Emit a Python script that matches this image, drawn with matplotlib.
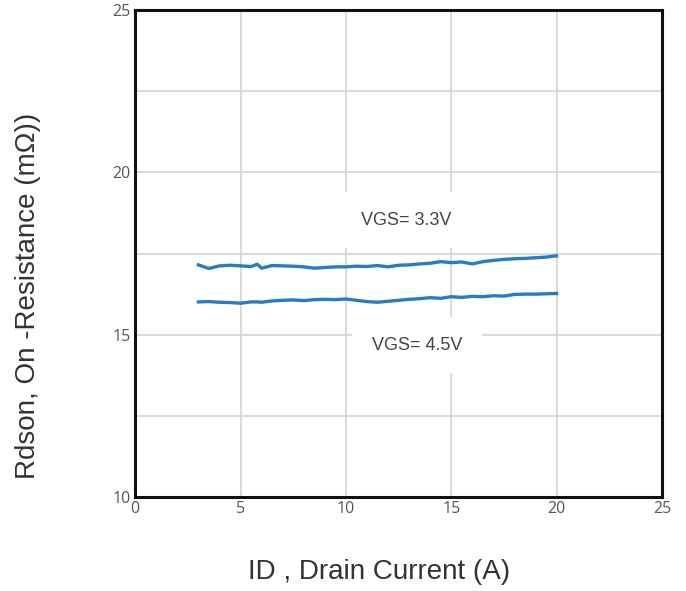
import numpy as np
from matplotlib import pyplot as plt

# drain current (A) sample points
id_a = [3.0, 3.5, 4.0, 4.5, 5.0, 5.5, 5.8, 6.0, 6.5, 7.0, 7.5, 8.0, 8.5, 9.0,
        9.5, 10.0, 10.5, 11.0, 11.5, 12.0, 12.5, 13.0, 13.5, 14.0, 14.5, 15.0,
        15.5, 16.0, 16.5, 17.0, 17.5, 18.0, 18.5, 19.0, 19.5, 20.0]

# Rdson (mOhm)
rds_33 = [17.15, 17.04, 17.12, 17.14, 17.12, 17.10, 17.17, 17.05, 17.13, 17.12,
          17.11, 17.09, 17.05, 17.07, 17.09, 17.09, 17.11, 17.10, 17.13, 17.09,
          17.14, 17.15, 17.18, 17.20, 17.25, 17.22, 17.24, 17.18, 17.25, 17.29,
          17.32, 17.34, 17.35, 17.37, 17.39, 17.43]
rds_45 = [16.01, 16.02, 16.00, 15.99, 15.97, 16.01, 16.01, 16.00, 16.04, 16.06,
          16.07, 16.05, 16.08, 16.09, 16.08, 16.10, 16.06, 16.02, 16.00, 16.03,
          16.06, 16.09, 16.11, 16.14, 16.12, 16.17, 16.15, 16.18, 16.17, 16.20,
          16.19, 16.24, 16.25, 16.25, 16.26, 16.27]

x_ticks = [0, 5, 10, 15, 20, 25]
y_ticks = [10, 15, 20, 25]
y_minor = [12.5, 17.5, 22.5]

line_color = '#2a7cc0'
tick_color = '#555555'

fig = plt.figure(figsize=(6.86, 5.91), dpi=100)
ax = fig.add_axes([0.197, 0.159, 0.768, 0.824])

ax.plot(id_a, rds_33, color=line_color, lw=2.4, zorder=3)
ax.plot(id_a, rds_45, color=line_color, lw=2.4, zorder=3)

ax.set_xlim(0, 25)
ax.set_ylim(10, 25)
ax.set_xticks(x_ticks)
ax.set_yticks(y_ticks)
ax.set_yticks(y_minor, minor=True)
ax.grid(True, which='both', color='#d4d4d4', lw=1.2, zorder=0)
ax.set_axisbelow(True)
ax.tick_params(which='both', length=0, pad=3, labelsize=11.5, labelcolor=tick_color)
for lab in ax.get_xticklabels() + ax.get_yticklabels():
    lab.set_family('Open Sans')

for sp in ax.spines.values():
    sp.set_linewidth(2.2)
    sp.set_color('#111111')

box = dict(boxstyle='square', fc='white', ec='none', pad=1.1)
ax.text(12.85, 18.53, 'VGS= 3.3V', ha='center', va='center', fontsize=13,
        color='#444444', family='Liberation Sans', bbox=box, zorder=2)
ax.text(13.38, 14.68, 'VGS= 4.5V', ha='center', va='center', fontsize=13,
        color='#444444', family='Liberation Sans', bbox=box, zorder=2)

ax.set_xlabel('ID , Drain Current (A)', fontsize=20, color='#333333',
              family='Liberation Sans', va='center')
ax.set_ylabel('Rdson, On -Resistance (m\u03a9))', fontsize=20, color='#333333',
              family='Liberation Sans', va='center')
ax.xaxis.set_label_coords(0.463, -0.154)
ax.yaxis.set_label_coords(-0.203, 0.413)

fig.savefig('out.png', dpi=100)
